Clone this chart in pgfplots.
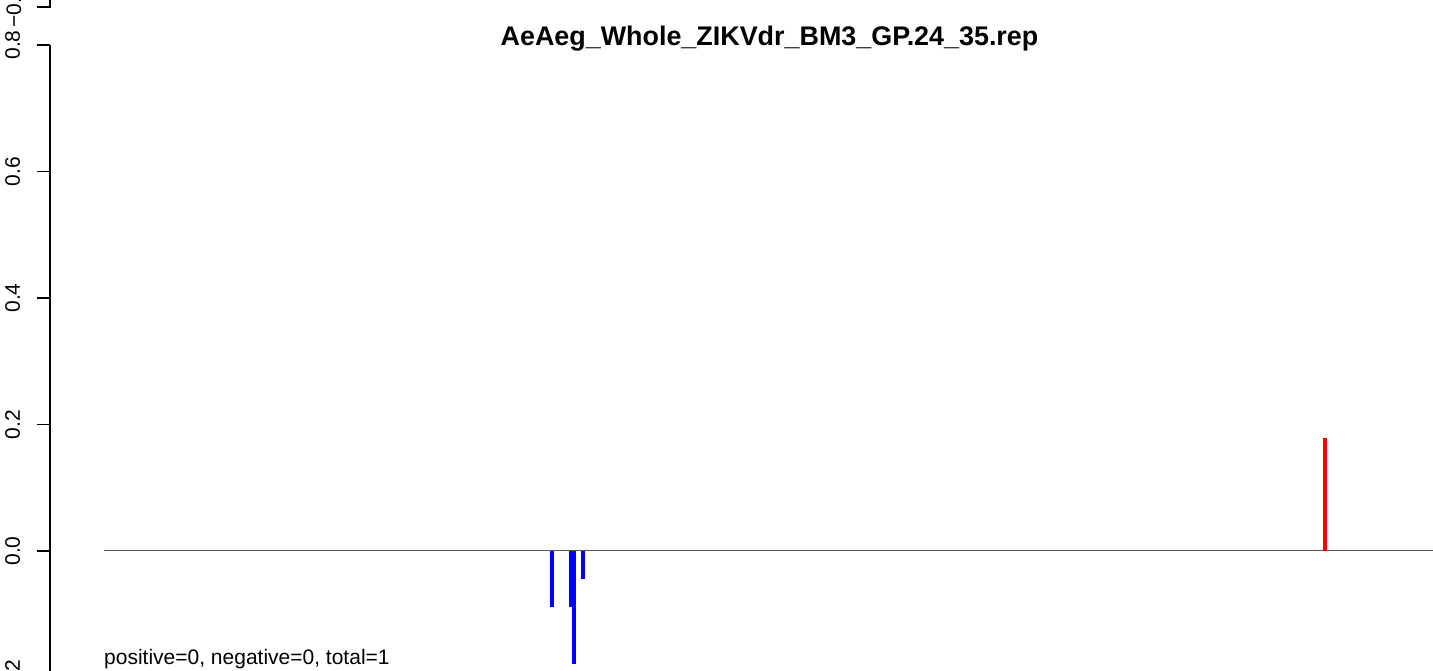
\documentclass[border=0pt]{standalone}
\usepackage{fontspec}
\setmainfont{Liberation Sans}
\usepackage{pgfplots}
\pgfplotsset{compat=1.18}
\begin{document}
\begin{tikzpicture}[x=1pt,y=1pt]
\path[use as bounding box] (0,0) rectangle (1433,671);
\clip (0,0) rectangle (1433,671);
\begin{axis}[
  at={(50pt,-12.825pt)}, anchor=south west, scale only axis,
  width=1383pt, height=683.825pt,
  xmin=50, xmax=1433, ymin=-0.21, ymax=0.871146,
  axis x line=none, axis y line*=left,
  y axis line style={draw=none},
  ytick={-0.2,0,0.2,0.4,0.6,0.8},
  tick align=outside, major tick length=13pt,
  every tick/.style={black, line width=1.1pt},
  /pgf/number format/.cd, fixed, fixed zerofill, precision=1, assume math mode=true,
  /pgfplots/.cd,
  yticklabel style={xshift=-17pt, rotate=90, anchor=base, font=\fontsize{21}{21}\selectfont},
  clip=false,
]
\addplot[black!65, line width=1pt] coordinates {(104,0) (1433,0)};
\addplot[blue, ycomb, line width=4pt, mark=none] coordinates {(552,-0.089) (571,-0.089) (574,-0.179) (583,-0.045)};
\addplot[red, ycomb, line width=4pt, mark=none] coordinates {(1325,0.179)};
\draw[black, line width=1.1pt] (axis cs:50,-0.2) -- (axis cs:50,0.8);
\end{axis}
\draw[black, line width=1.1pt] (50,671) -- (50,664) -- (37,664);
\node[rotate=90, anchor=base, inner sep=0, font=\fontsize{21}{21}\selectfont] at (21,664) {\char"2212 0.2};
\node[anchor=base, inner sep=0, font=\fontsize{26.9}{27}\selectfont\bfseries] at (769.5,625) {AeAeg\_Whole\_ZIKVdr\_BM3\_GP.24\_35.rep};
\node[anchor=base west, inner sep=0, font=\fontsize{21}{21}\selectfont] at (104,6) {positive=0, negative=0, total=1};
\end{tikzpicture}
\end{document}
